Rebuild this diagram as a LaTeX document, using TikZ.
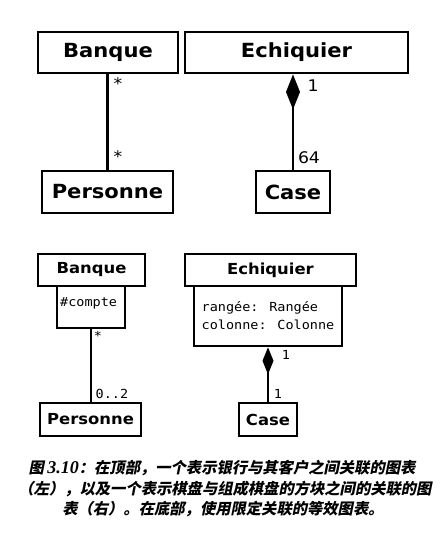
\documentclass[tikz,border=0pt]{standalone}
\usepackage{fontspec}
\usetikzlibrary{arrows.meta}
\newfontfamily\umlsans{DejaVu Sans}[FakeStretch=1.08]
\newfontfamily\umlmono{DejaVu Sans Mono}[FakeStretch=1.08]
\newfontfamily\cjkcap{Noto Sans CJK SC}[BoldFeatures={FakeSlant=0.2}]
\newfontfamily\capnum{Liberation Serif}
\begin{document}
\begin{tikzpicture}[x=1pt,y=-1pt,
  cls/.style={draw, line width=2.8pt, inner sep=0pt, font=\umlsans\bfseries\fontsize{19.5}{22}\selectfont},
  clss/.style={draw, line width=2.6pt, inner sep=0pt, font=\umlsans\bfseries\fontsize{15.2}{17}\selectfont},
  attrbox/.style={draw, line width=2.6pt, inner sep=0pt, font=\umlmono\fontsize{12.5}{18}\selectfont},
  assoc/.style={line width=2.8pt},
  assocs/.style={line width=2.6pt},
  mult/.style={inner sep=0pt, font=\umlsans\fontsize{16}{18}\selectfont},
  mmult/.style={inner sep=0pt, font=\umlmono\fontsize{12.5}{14}\selectfont},
  captxt/.style={inner sep=0pt, anchor=base, font=\cjkcap\bfseries\fontsize{15.3}{18}\selectfont}]
\useasboundingbox (0,0) rectangle (445,542);
% ---- top diagrams
\node[cls, minimum width=140pt, minimum height=41pt] (bq1) at (108,52.5) {Banque};
\node[cls, minimum width=223pt, minimum height=41pt] (ech1) at (296.5,52.5) {Echiquier};
\node[cls, minimum width=131pt, minimum height=42pt] (pers1) at (107.5,192) {Personne};
\node[cls, minimum width=74pt, minimum height=42pt] (case1) at (293,192) {Case};
\draw[assoc] (bq1.south -| pers1.north) -- (pers1.north);
\draw[assoc, {Diamond[length=35pt,width=14pt]}-] (ech1.south -| case1.north) -- (case1.north);
\node[mult] (m1) at (118,84) {*};
\node[mult] (m2) at (118,157) {*};
\node[mult] (m3) at (313,86) {1};
\node[mult] (m4) at (309,158) {64};
% ---- bottom diagrams
\node[clss, minimum width=107pt, minimum height=32pt] (bq2) at (91.5,270) {Banque};
\node[attrbox, minimum width=68pt, minimum height=42pt] (cpt) at (91,307) {};
\node[mmult, anchor=west] (cpttxt) at (60,303) {\#compte};
\node[clss, minimum width=101pt, minimum height=33pt] (pers2) at (90.5,419.5) {Personne};
\draw[assocs] (cpt.south) -- (cpt.south |- pers2.north);
\node[clss, minimum width=171pt, minimum height=32pt] (ech2) at (270.5,270) {Echiquier};
\node[attrbox, minimum width=148pt, minimum height=60pt, align=left] (attr) at (268,316) {rangée: Rangée\\colonne: Colonne};
\node[clss, minimum width=58pt, minimum height=33pt] (case2) at (268,419.5) {Case};
\draw[assocs, {Diamond[length=27pt,width=11pt]}-] (attr.south) -- (case2.north);
\node[mmult] (n1) at (98,336) {*};
\node[mmult] (n2) at (112,394) {0..2};
\node[mmult] (n3) at (286,355) {1};
\node[mmult] (n4) at (278,394) {1};
% ---- caption
\node[captxt] (cap1) at (222,473) {图 {\capnum\bfseries\itshape\fontsize{18}{18}\selectfont 3.10}：在顶部，一个表示银行与其客户之间关联的图表};
\node[captxt] (cap2) at (225,494) {（左），以及一个表示棋盘与组成棋盘的方块之间的关联的图};
\node[captxt] (cap3) at (223,514.5) {表（右）。在底部，使用限定关联的等效图表。};
\end{tikzpicture}
\end{document}
